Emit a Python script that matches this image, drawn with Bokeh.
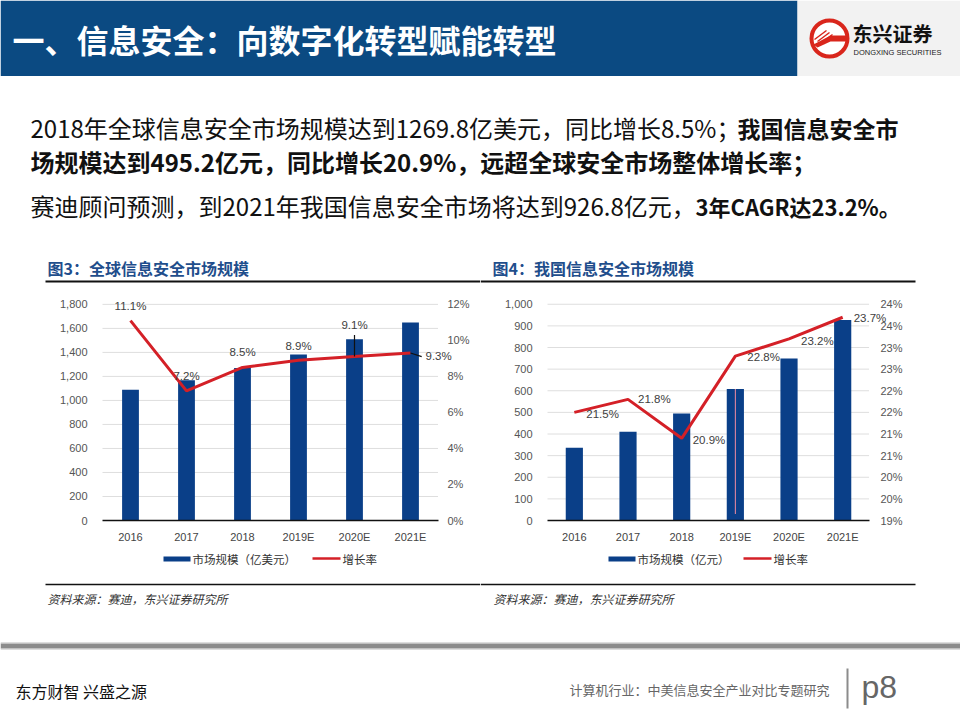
from bokeh.plotting import figure
from bokeh.layouts import column, row
from bokeh.models import (Range1d, LinearAxis, ColumnDataSource, LabelSet,
                          NumeralTickFormatter, FixedTicker)
from bokeh.core.properties import value
from bokeh.embed import file_html
from bokeh.resources import INLINE

# ---------------- data ----------------
years = ["2016", "2017", "2018", "2019E", "2020E", "2021E"]
global_size = [1090, 1169, 1269.8, 1383, 1509, 1649]
global_growth = [11.1, 7.2, 8.5, 8.9, 9.1, 9.3]
china_size = [336, 410, 495.2, 608, 749, 926.8]
china_growth = [21.5, 21.8, 20.9, 22.8, 23.2, 23.7]

global_left_ticks = [0, 200, 400, 600, 800, 1000, 1200, 1400, 1600, 1800]
global_right_ticks = [0, 2, 4, 6, 8, 10, 12]
china_left_ticks = [0, 100, 200, 300, 400, 500, 600, 700, 800, 900, 1000]
china_right_ticks = [19, 19.5, 20, 20.5, 21, 21.5, 22, 22.5, 23, 23.5, 24]
china_right_labels = ["19%", "20%", "20%", "21%", "21%", "22%", "22%", "23%", "23%", "24%", "24%"]

header_title = "一、信息安全：向数字化转型赋能转型"
chart1_title = "图3：全球信息安全市场规模"
chart2_title = "图4：我国信息安全市场规模"
chart1_bar_name = "市场规模（亿美元）"
chart2_bar_name = "市场规模（亿元）"
line_name = "增长率"
source_note = "资料来源：赛迪，东兴证券研究所"

CJK = "Noto Sans CJK SC"
LAT = "Liberation Sans"
BLUE_HDR = "#0B4A82"
BAR = "#0A3F88"
RED = "#D42027"
TITLE_BLUE = "#1F4E8C"


def canvas(w, h, bg="white"):
    p = figure(width=w, height=h, x_range=Range1d(0, w), y_range=Range1d(h, 0),
               output_backend="svg", toolbar_location=None, min_border=0,
               x_axis_location=None, y_axis_location=None,
               background_fill_color=bg, border_fill_color=bg, outline_line_color=None)
    p.grid.visible = False
    return p


def txt(p, x, y, s, size, color="#111111", font=CJK, style="normal", align="left", baseline="middle"):
    p.text(x=[x], y=[y], text=[s], text_font=value(font), text_font_size=size,
           text_font_style=style, text_color=color, text_align=align, text_baseline=baseline)


# ---------------- header (0..76) ----------------
hdr = canvas(960, 76)
hdr.quad(left=[0], right=[797], top=[0], bottom=[76], fill_color=BLUE_HDR, line_color=None)
hdr.quad(left=[797], right=[960], top=[0], bottom=[76], fill_color="#F2F2F2", line_color=None)
txt(hdr, 12, 38, header_title, "32px", color="white", style="bold")
# logo
hdr.circle(x=[829], y=[38], radius=18, fill_color="white", line_color="#D9261C", line_width=4)
hdr.patch(x=[813, 830, 847, 847, 830, 817], y=[44, 35, 35, 41, 41, 47], fill_color="#D9261C", line_color=None)
hdr.multi_line(xs=[[814, 826], [817, 829], [820, 832]], ys=[[39, 30], [41, 32], [43, 34]],
               line_color="#D9261C", line_width=1.5)
txt(hdr, 852, 33, "东兴证券", "20px", color="#111111", style="bold")
txt(hdr, 853, 52, "DONGXING SECURITIES", "7.5px", color="#222222", font=LAT)

# ---------------- text block (76..245) ----------------
tb = canvas(960, 169)
txt(tb, 30, 51, "2018年全球信息安全市场规模达到1269.8亿美元，同比增长8.5%；", "24px")
txt(tb, 737, 51, "我国信息安全市", "23px", style="bold")
txt(tb, 30, 85, "场规模达到495.2亿元，同比增长20.9%，远超全球安全市场整体增长率；", "24px", style="bold")
txt(tb, 30, 129, "赛迪顾问预测，到2021年我国信息安全市场将达到926.8亿元，", "24px")
txt(tb, 695, 129, "3年CAGR达23.2%。", "22px", style="bold")


# ---------------- chart pieces (245..615) ----------------
def title_strip(title, tx, lx0, lx1):
    s = canvas(480, 39)
    txt(s, tx, 22, title, "16px", color=TITLE_BLUE, style="bold")
    s.segment(x0=[lx0], y0=[36], x1=[lx1], y1=[36], line_color="#111111", line_width=2)
    return s


def legend_strip(bar_name, bx, tx, rx, lx):
    s = canvas(480, 30)
    s.quad(left=[bx], right=[bx + 27], top=[11], bottom=[16], fill_color=BAR, line_color=None)
    txt(s, tx, 13, bar_name, "11.5px", color="#333333")
    s.segment(x0=[rx], y0=[13], x1=[rx + 28], y1=[13], line_color=RED, line_width=2.5)
    txt(s, lx, 13, line_name, "11.5px", color="#333333")
    return s


def source_strip(tx, lx0, lx1):
    s = canvas(480, 40)
    s.segment(x0=[lx0], y0=[9], x1=[lx1], y1=[9], line_color="#111111", line_width=1.5)
    txt(s, tx, 23, source_note, "12px", color="#333333", style="italic")
    return s


def chart(sizes, growth, left_ticks, right_ticks, right_overrides,
          px_left, px_slot, px_right, px_top, px_ymax, px_base, pct_lo, pct_hi,
          right_standoff, xo, yo, aligns, bar_w, height=261):
    """px_* are pixel positions inside the figure (left edge of first slot, slot width,
    frame right edge, frame top, pixel of the top tick, pixel of the baseline)."""
    n = len(years)
    xs = list(range(n))
    ymax = left_ticks[-1]
    span = px_base - px_ymax
    y_end = ymax * (px_base - px_top) / span
    pct_end = pct_lo + (pct_hi - pct_lo) * (px_base - px_top) / span
    x_end = n - 0.5 + (px_right - (px_left + n * px_slot)) / px_slot

    src = ColumnDataSource(dict(x=xs, size=sizes, growth=growth,
                                glabel=["%.1f%%" % g for g in growth],
                                xo=xo, yo=yo, align=aligns))
    p = figure(width=480, height=height, x_range=Range1d(-0.5, x_end), y_range=Range1d(0, y_end),
               output_backend="svg", toolbar_location=None,
               min_border_left=px_left, min_border_right=480 - px_right,
               min_border_top=px_top, min_border_bottom=height - px_base,
               outline_line_color=None, background_fill_color="white")
    p.extra_y_ranges = {"pct": Range1d(pct_lo, pct_end)}
    ya = p.left[0]
    ya.ticker = FixedTicker(ticks=left_ticks)
    ya.formatter = NumeralTickFormatter(format="0,0")
    ya.axis_line_color = None
    ya.major_tick_line_color = None
    ya.minor_tick_line_color = None
    ya.major_label_standoff = 9
    ya.major_label_text_font = LAT
    ya.major_label_text_font_size = "11px"
    ya.major_label_text_color = "#555555"
    xa = p.below[0]
    xa.ticker = FixedTicker(ticks=xs)
    xa.major_label_overrides = {float(i): y for i, y in zip(xs, years)}
    xa.bounds = (-0.5, n - 0.5)
    xa.axis_line_color = "#111111"
    xa.axis_line_width = 1.5
    xa.major_tick_line_color = None
    xa.minor_tick_line_color = None
    xa.major_label_standoff = 4
    xa.major_label_text_font = LAT
    xa.major_label_text_font_size = "11px"
    xa.major_label_text_color = "#444444"
    ra = LinearAxis(y_range_name="pct", ticker=FixedTicker(ticks=right_ticks),
                    major_label_overrides=right_overrides)
    ra.axis_line_color = None
    ra.major_tick_line_color = None
    ra.minor_tick_line_color = None
    ra.major_label_standoff = right_standoff
    ra.major_label_text_font = LAT
    ra.major_label_text_font_size = "11px"
    ra.major_label_text_color = "#555555"
    p.add_layout(ra, "right")
    p.grid.visible = False

    # dotted gridlines limited to the category span
    gt = [t for t in left_ticks if t > 0]
    p.segment(x0=[-0.5] * len(gt), y0=gt, x1=[n - 0.5] * len(gt), y1=gt,
              line_color="#BDBDBD", line_dash="1 1", line_width=1)

    p.vbar(x="x", top="size", width=bar_w, source=src, fill_color=BAR, line_color=None)
    p.line(x="x", y="growth", y_range_name="pct", source=src, line_color=RED, line_width=3)
    labels = LabelSet(x="x", y="growth", text="glabel", y_range_name="pct", source=src,
                      x_offset="xo", y_offset="yo", text_align="align", text_baseline="middle",
                      text_font=value(LAT), text_font_size="11.5px", text_color="#404040")
    p.add_layout(labels)
    return p


ov1 = {float(t): "%d%%" % t for t in global_right_ticks}
# figure spans page y 284..545 ; frame top 290, 1800 at 304, baseline at 522
c1 = chart(global_size, global_growth, global_left_ticks, global_right_ticks, ov1,
           px_left=102, px_slot=56, px_right=470, px_top=6, px_ymax=20, px_base=238,
           pct_lo=0, pct_hi=12, right_standoff=-29,
           xo=[0, 0, 0, 0, 0, 15], yo=[15, 15, 15, 14, 32, -3],
           aligns=["center", "center", "center", "center", "center", "left"], bar_w=0.3)
# leader lines for the 2020E and 2021E labels
c1.segment(x0=[4], y0=[global_growth[4]], x1=[4], y1=[global_growth[4] + 1.2],
           y_range_name="pct", line_color="#111111", line_width=1.2)
c1.segment(x0=[5], y0=[global_growth[5]], x1=[5.2], y1=[global_growth[5] - 0.2],
           y_range_name="pct", line_color="#111111", line_width=1.2)

ov2 = {float(t): l for t, l in zip(china_right_ticks, china_right_labels)}
# figure spans page x 480..960 ; 1000 at y 304, baseline at 524
c2 = chart(china_size, china_growth, china_left_ticks, china_right_ticks, ov2,
           px_left=67, px_slot=53.67, px_right=410, px_top=6, px_ymax=20, px_base=240,
           pct_lo=19, pct_hi=24, right_standoff=-16,
           xo=[12, 10, 11, 12, 12, 11], yo=[-2, 0, -2, -1, -2, -1],
           aligns=["left"] * 6, bar_w=0.32)
# thin pink artefact line on the 2019E bar
c2.segment(x0=[3], y0=[china_size[3]], x1=[3], y1=[30], line_color="#F28CA0", line_width=1)

left_col = column(title_strip(chart1_title, 47, 45, 480), row(c1),
                  legend_strip(chart1_bar_name, 163, 192, 312, 342),
                  source_strip(47, 45, 480))
right_col = column(title_strip(chart2_title, 12, 0, 435), row(c2),
                   legend_strip(chart2_bar_name, 128, 157, 263, 293),
                   source_strip(13, 0, 435))
charts = row(left_col, right_col)

# ---------------- footer (615..720) ----------------
ft = canvas(960, 105)
ft.quad(left=[0], right=[960], top=[28], bottom=[33], fill_color="#8C8C8C", line_color=None)
ft.quad(left=[0], right=[960], top=[27], bottom=[28], fill_color="#BDBDBD", line_color=None)
ft.quad(left=[0], right=[960], top=[33], bottom=[34], fill_color="#BDBDBD", line_color=None)
txt(ft, 15, 75, "东方财智 兴盛之源", "16px", color="#111111")
txt(ft, 829, 74, "计算机行业：中美信息安全产业对比专题研究", "13px", color="#666666", align="right")
ft.segment(x0=[847], y0=[53], x1=[847], y1=[93], line_color="#8C8C8C", line_width=2)
txt(ft, 861, 71, "p8", "32px", color="#666666", font=LAT)

page = column(hdr, tb, charts, ft)
open("out.html", "w").write(file_html(page, INLINE))
